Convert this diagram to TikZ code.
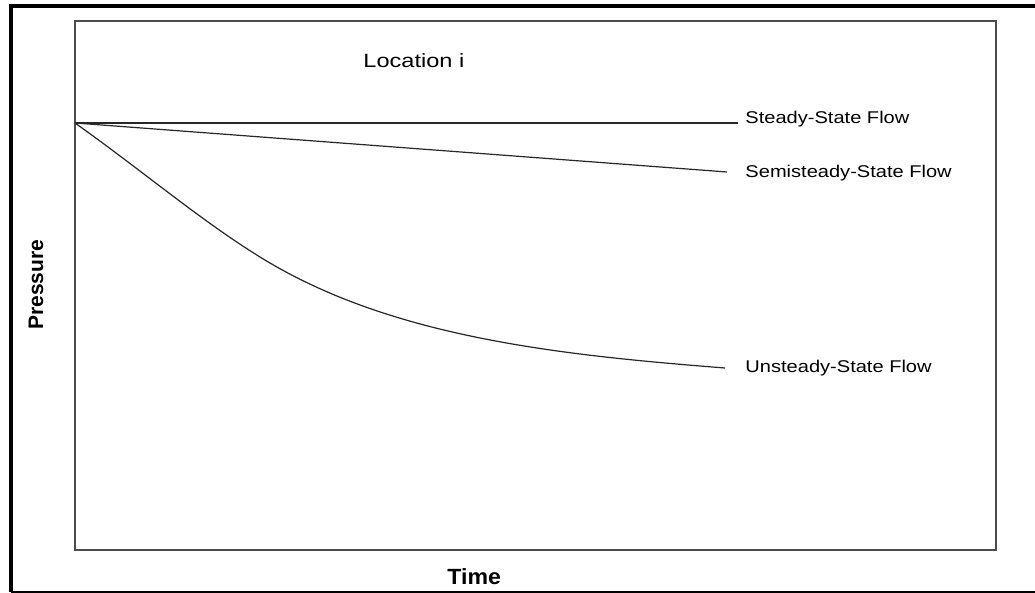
\documentclass[tikz,border=0pt]{standalone}
\usepackage{fontspec}
\setmainfont{Liberation Sans}
\usetikzlibrary{calc}

\begin{document}
\begin{tikzpicture}[
    x=0.5pt, y=-0.5pt,
    frame line/.style={line width=2pt},
    box line/.style={line width=0.65pt, black!70},
    flow line/.style={line width=0.6pt, black!85},
    flow label/.style={anchor=base west, inner sep=0pt, xscale=1.18, font=\fontsize{8.5}{10}\selectfont},
    axis label/.style={anchor=base west, inner sep=0pt, font=\bfseries\fontsize{10.5}{12}\selectfont}
    ]
    \useasboundingbox (0,0) rectangle (1035,593);

    % outer frame
    \draw[frame line] (1035,6) -- (10.5,6) -- (10.5,592);
    \draw[line width=0.8pt] (10.5,592) -- (1035,592);
    % plot box
    \draw[box line] (75,21) rectangle (996,550);

    % start and end points
    \coordinate (O) at (75,123);
    \coordinate (bend) at (260,257);
    \coordinate (steady) at (738,123);
    \coordinate (semi) at (727,172);
    \coordinate (unsteady) at (725,368);
    % curves
    \draw[flow line] (O) -- (steady);
    \draw[flow line] (O) -- (semi);
    \draw[flow line] (O) .. controls (140,169) and (200,220) .. (bend)
        .. controls (390,337.6) and (560,355) .. (unsteady);

    % labels
    \node[flow label] (steadytext) at (745,124) {Steady-State Flow};
    \node[flow label] (semitext) at (745,178) {Semisteady-State Flow};
    \node[flow label] (unsteadytext) at (745,373) {Unsteady-State Flow};
    \node[flow label, xscale=1.04, font=\fontsize{9.6}{11}\selectfont] (location) at (363,68) {Location i};
    \node[axis label, rotate=90] (pressure) at (43,330) {Pressure};
    \node[axis label, xscale=1.05, font=\bfseries\fontsize{11}{13}\selectfont] (time) at (447,584) {Time};
\end{tikzpicture}
\end{document}
